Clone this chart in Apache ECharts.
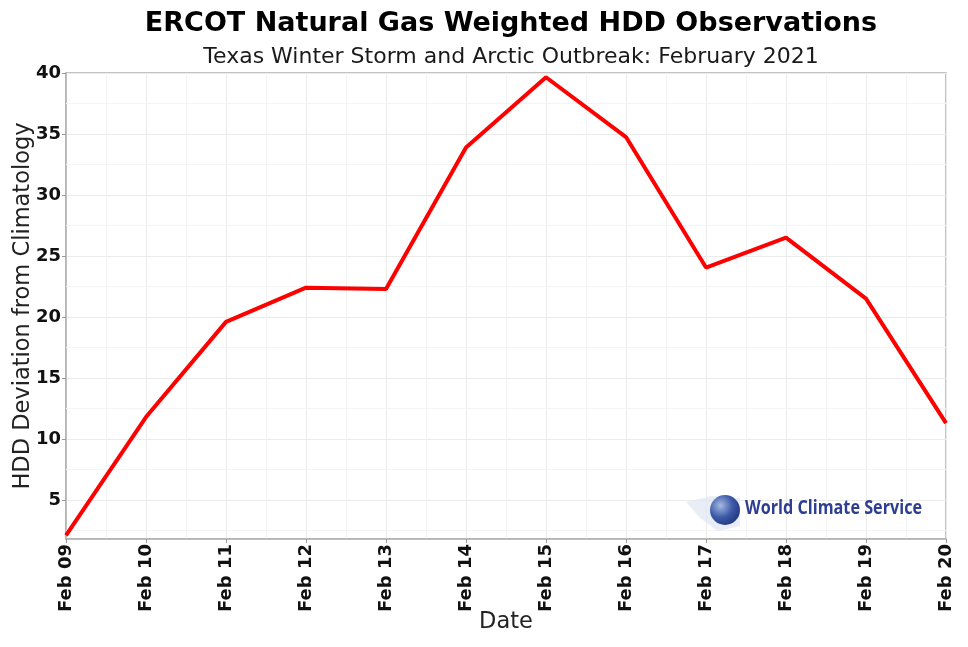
<!DOCTYPE html>
<html>
<head>
<meta charset="utf-8">
<script src="https://cdn.jsdelivr.net/npm/echarts@6/dist/echarts.min.js"></script>
<style>html,body{margin:0;padding:0;background:#fff;}#c{width:968px;height:647px;}</style>
</head>
<body>
<div id="c"></div>
<script>
var categories = ['Feb 09','Feb 10','Feb 11','Feb 12','Feb 13','Feb 14','Feb 15','Feb 16','Feb 17','Feb 18','Feb 19','Feb 20'];
var hddDeviation = [2.1, 11.8, 19.6, 22.4, 22.3, 33.9, 39.65, 34.75, 24.05, 26.5, 21.5, 11.3];
var yMinorLines = [2.5, 7.5, 12.5, 17.5, 22.5, 27.5, 32.5, 37.5];

var chart = echarts.init(document.getElementById('c'));
var FONT = 'DejaVu Sans';
var seriesData = hddDeviation.map(function (v, i) { return [i, v]; });

chart.setOption({
  animation: false,
  backgroundColor: '#fff',
  title: [
    { text: 'ERCOT Natural Gas Weighted HDD Observations', left: 506, top: 5, textAlign: 'center',
      textStyle: { fontFamily: FONT, fontWeight: 'bold', fontSize: 27, color: '#000' } },
    { text: 'Texas Winter Storm and Arctic Outbreak: February 2021', left: 506, top: 41, textAlign: 'center',
      textStyle: { fontFamily: FONT, fontWeight: 'normal', fontSize: 22, color: '#1a1a1a' } }
  ],
  grid: { left: 66, right: 22, top: 73, bottom: 108, show: true, borderColor: '#b0b0b0', borderWidth: 1.5,
          containLabel: false, outerBoundsMode: 'none' },
  xAxis: {
    type: 'value', min: 0, max: 11, interval: 1,
    name: 'Date', nameLocation: 'middle', nameGap: 72, nameMoveOverlap: false,
    nameTextStyle: { fontFamily: FONT, fontSize: 22.5, color: '#222' },
    axisLine: { show: true, lineStyle: { color: '#b0b0b0', width: 1.5 } },
    axisTick: { show: true, length: 4, lineStyle: { color: '#999' } },
    axisLabel: { rotate: 90, margin: 5, fontFamily: FONT, fontWeight: 'bold', fontSize: 18, color: '#111',
      formatter: function (v) { return categories[Math.round(v)] || ''; } },
    splitLine: { show: true, lineStyle: { color: '#ebebeb', width: 1 } },
    minorTick: { show: true, splitNumber: 2, length: 0, lineStyle: { color: 'rgba(0,0,0,0)' } },
    minorSplitLine: { show: true, lineStyle: { color: '#f4f4f4', width: 1 } }
  },
  yAxis: {
    type: 'value', min: 1.8, max: 40, minInterval: 5, maxInterval: 5, splitNumber: 8,
    name: 'HDD Deviation from Climatology', nameLocation: 'middle', nameGap: 31, nameMoveOverlap: false,
    nameTextStyle: { fontFamily: FONT, fontSize: 22.5, color: '#222' },
    axisLine: { show: true, lineStyle: { color: '#b0b0b0', width: 1.5 } },
    axisTick: { show: true, length: 4, lineStyle: { color: '#999' } },
    axisLabel: { showMinLabel: false, margin: 5, fontFamily: FONT, fontWeight: 'bold', fontSize: 18, color: '#111' },
    splitLine: { show: true, lineStyle: { color: '#ebebeb', width: 1 } }
  },
  series: [{
    type: 'line', data: seriesData, showSymbol: false, symbol: 'none',
    lineStyle: { color: '#ff0000', width: 4 },
    z: 5,
    markLine: {
      silent: true, symbol: 'none', animation: false, z: 1,
      label: { show: false },
      lineStyle: { color: '#f4f4f4', width: 1, type: 'solid' },
      data: yMinorLines.map(function (v) { return { yAxis: v }; })
    }
  }],
  graphic: [
    { type: 'polygon', z: 10, shape: { points: [[686, 502], [712, 496], [740, 498], [740, 526], [718, 531], [700, 518]] },
      style: { fill: 'rgba(222,229,242,0.7)' } },
    { type: 'circle', z: 11, shape: { cx: 725, cy: 510, r: 15 },
      style: { fill: new echarts.graphic.RadialGradient(0.35, 0.35, 0.8, [
        { offset: 0, color: '#a5bbe2' }, { offset: 0.5, color: '#3d5aa8' }, { offset: 1, color: '#1c2f78' }]) } },
    { type: 'text', z: 12, x: 745, y: 498, scaleX: 0.81,
      style: { text: 'World Climate Service', fill: '#2e3e92', font: 'bold 20px "Open Sans"' } }
  ]
});
</script>
</body>
</html>
